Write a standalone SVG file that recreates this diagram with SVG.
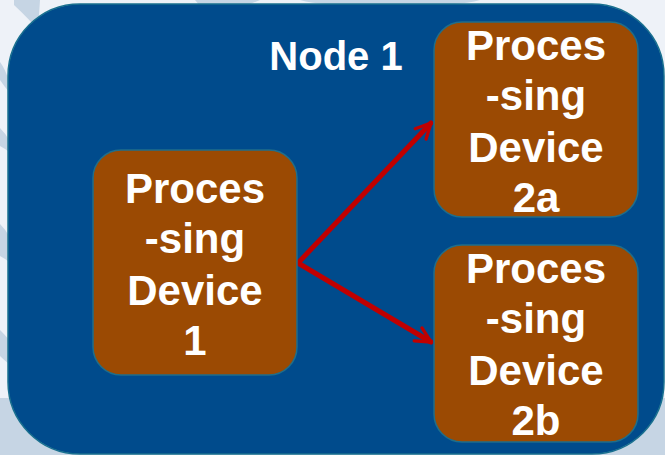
<svg xmlns="http://www.w3.org/2000/svg" width="665" height="455" viewBox="0 0 665 455">
  <defs>
    <style>
      .bg { fill: #eef2f8; }
      .deco { fill: #c6d5e4; }
      .container { fill: #004b8c; stroke: #19708f; stroke-width: 1.5; }
      .dev { fill: #9b4a03; stroke: #1f6e8a; stroke-width: 1.5; }
      .lbl { font-family: "Liberation Sans", Arial, sans-serif; font-weight: bold; fill: #ffffff; text-anchor: middle; }
      .dl { font-size: 42px; }
      .conn { stroke: #c00000; stroke-width: 5; fill: none; stroke-linecap: round; stroke-linejoin: round; }
    </style>
    <marker id="arrow" viewBox="0 0 12 12" refX="10.5" refY="6" markerWidth="4" markerHeight="4" markerUnits="strokeWidth" orient="auto">
      <path d="M1.5,1.5 L10.5,6 L1.5,10.5" fill="none" stroke="#c00000" stroke-width="2" stroke-linecap="round" stroke-linejoin="round"/>
    </marker>
  </defs>

  <g id="background">
    <rect class="bg" x="0" y="0" width="665" height="455"/>
    <rect class="deco" x="0" y="398" width="665" height="57"/>
    <path class="deco" d="M14,0 L40,0 L38,30 Q30,20 14,5 Z"/>
    <path class="deco" d="M0,62 Q6,70 9,82 L9,92 Q4,86 0,80 Z"/>
    <path class="deco" d="M0,128 Q6,134 9,140 L9,152 Q4,148 0,146 Z"/>
    <path class="deco" d="M0,224 Q6,230 9,236 L9,262 Q4,258 0,256 Z"/>
    <path class="deco" d="M0,330 Q6,336 9,340 L9,364 Q4,360 0,356 Z"/>
    <path class="deco" d="M195,0 L260,0 L245,6 L200,6 Z"/>
    <path class="deco" d="M300,0 L480,0 Q460,6 390,6 Q320,6 300,0 Z"/>
  </g>

  <g id="node1-container">
    <rect class="container" x="8" y="4" width="656" height="450" rx="72" ry="72"/>
    <text class="lbl" x="336" y="70" font-size="40">Node 1</text>
  </g>

  <g id="connectors">
    <line class="conn" x1="298" y1="263" x2="431" y2="123" marker-end="url(#arrow)"/>
    <line class="conn" x1="298" y1="263" x2="431" y2="342" marker-end="url(#arrow)"/>
  </g>

  <g id="device1">
    <rect class="dev" x="93" y="150" width="204" height="225" rx="28" ry="28"/>
    <text class="lbl dl" x="195" y="203">Proces</text>
    <text class="lbl dl" x="195" y="253">-sing</text>
    <text class="lbl dl" x="195" y="305">Device</text>
    <text class="lbl dl" x="195" y="355">1</text>
  </g>

  <g id="device2a">
    <rect class="dev" x="434" y="22" width="204" height="195" rx="28" ry="28"/>
    <text class="lbl dl" x="536" y="60">Proces</text>
    <text class="lbl dl" x="536" y="110">-sing</text>
    <text class="lbl dl" x="536" y="162">Device</text>
    <text class="lbl dl" x="536" y="212">2a</text>
  </g>

  <g id="device2b">
    <rect class="dev" x="434" y="245" width="204" height="197" rx="28" ry="28"/>
    <text class="lbl dl" x="536" y="283">Proces</text>
    <text class="lbl dl" x="536" y="333">-sing</text>
    <text class="lbl dl" x="536" y="385">Device</text>
    <text class="lbl dl" x="536" y="435">2b</text>
  </g>
</svg>
